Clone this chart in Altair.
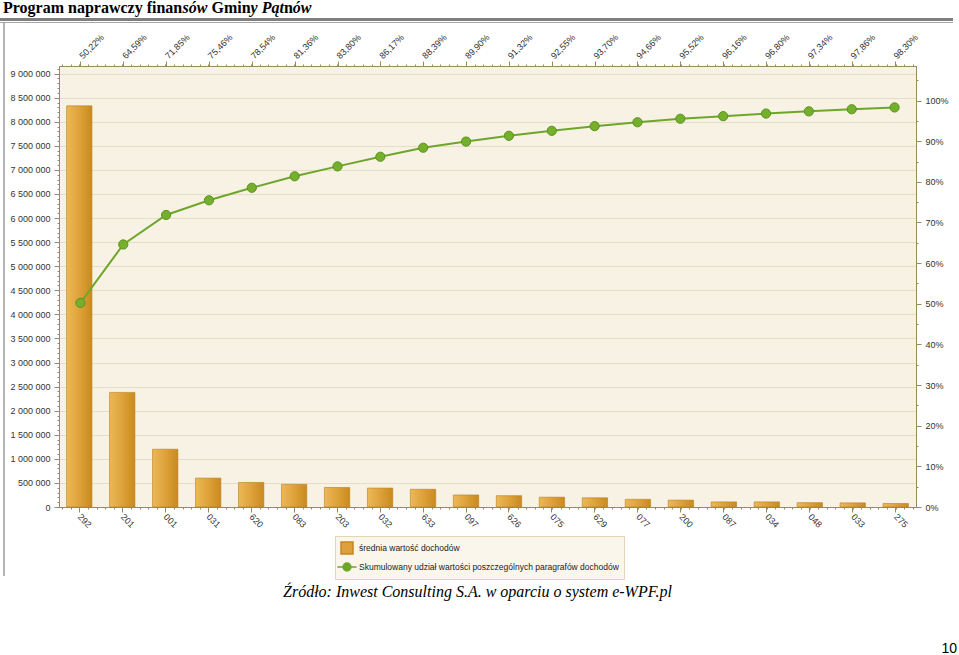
import altair as alt
import pandas as pd

codes = ["292", "201", "001", "031", "620", "083", "203", "032", "633", "097",
         "626", "075", "629", "077", "200", "087", "034", "048", "033", "275"]
values = [8330000, 2380000, 1200000, 600000, 510000, 470000, 405000, 393000, 368000, 250000,
          235000, 204000, 191000, 159000, 143000, 106000, 106000, 90000, 86000, 73000]
cum_pct = [50.22, 64.59, 71.85, 75.46, 78.54, 81.36, 83.80, 86.17, 88.39, 89.90,
           91.32, 92.55, 93.70, 94.66, 95.52, 96.16, 96.80, 97.34, 97.86, 98.30]
cum_labels = [("%.2f%%" % p).replace(".", ",") for p in cum_pct]

bar_name = "średnia wartość dochodów"
line_name = "Skumulowany udział wartości poszczególnych paragrafów dochodów"
# page title pieces: (text, italic)
title_parts = [("Program naprawczy finan", False), ("sów", True), (" Gmin", False),
               ("y Pąt", True), ("n", False), ("ów", True)]
source = "Źródło: Inwest Consulting S.A. w oparciu o system e-WPF.pl"
page_no = "10"

df = pd.DataFrame({"code": codes, "value": values, "cum": [p / 100 for p in cum_pct]})
legend_df = pd.DataFrame({"series": [bar_name, line_name]})

FONT = "Liberation Sans"
OLIVE = "#978b60"
W, H = 857, 441
PL, PT = 59, 66
YMAX = 9158000
PMAX = 1.085

xscale = alt.Scale(paddingInner=0.41, paddingOuter=0.177)
label_expr_top = "[" + ",".join("'%s'" % s for s in cum_labels) + "][indexof([" + \
    ",".join("'%s'" % c for c in codes) + "], datum.value)]"

bar_grad = {"gradient": "linear", "x1": 0, "x2": 1, "y1": 0, "y2": 0,
            "stops": [{"offset": 0, "color": "#ecb857"},
                      {"offset": 0.5, "color": "#dea23a"},
                      {"offset": 1, "color": "#c98a1f"}]}

bars = alt.Chart(df).mark_bar(color=bar_grad, stroke="#b97e1d", strokeWidth=0.6).encode(
    x=alt.X("code:N", sort=codes, scale=xscale, title=None,
            axis=alt.Axis(orient="bottom", labelAngle=45, labelAlign="left", labelBaseline="middle",
                          labelPadding=3, labelFont=FONT, labelFontSize=9, labelColor="#333333",
                          tickColor=OLIVE, tickSize=5, domainColor=OLIVE, grid=False)),
    y=alt.Y("value:Q", scale=alt.Scale(domain=[0, YMAX], nice=False, zero=True), title=None,
            axis=alt.Axis(orient="left", values=list(range(0, 9000001, 500000)),
                          labelExpr="replace(format(datum.value, ','), regexp(',', 'g'), ' ')",
                          labelFont=FONT, labelFontSize=9, labelColor="#333333", labelPadding=4,
                          tickColor=OLIVE, tickSize=5, domainColor=OLIVE,
                          grid=True, gridColor="#e7dcc5", gridWidth=1)),
)

yp = alt.Scale(domain=[0, PMAX], nice=False, zero=True)

line = alt.Chart(df).mark_line(color="#6ea62a", strokeWidth=2).encode(
    x=alt.X("code:N", sort=codes, scale=xscale, title=None,
            axis=alt.Axis(orient="top", labelExpr=label_expr_top, labelAngle=-45, labelAlign="left",
                          labelBaseline="middle", labelPadding=4, labelFont=FONT, labelFontSize=9,
                          labelColor="#333333", tickColor=OLIVE, tickSize=5, domainColor=OLIVE,
                          grid=False)),
    y=alt.Y("cum:Q", scale=yp, title=None,
            axis=alt.Axis(orient="right", values=[i / 10 for i in range(11)], format=".0%",
                          labelFont=FONT, labelFontSize=9, labelColor="#333333", labelPadding=4,
                          tickColor=OLIVE, tickSize=5, domainColor=OLIVE, grid=False)),
)

pts = alt.Chart(df).mark_circle(size=85, color="#74b02c", stroke="#5b921e", strokeWidth=1,
                                opacity=1).encode(
    x=alt.X("code:N", sort=codes, scale=xscale, axis=None),
    y=alt.Y("cum:Q", scale=yp, axis=None),
)

# minor ticks (axes only, invisible carrier marks)
minor_x = [round(0.1 + 0.2 * k, 2) for k in range(100)]
minor_xscale = alt.Scale(domain=[0.023, 19.976], nice=False, zero=False)
minor_df = pd.DataFrame({"mx": [1.0], "my": [0.0], "mp": [0.0]})

minor_a = alt.Chart(minor_df).mark_point(opacity=0).encode(
    x=alt.X("mx:Q", scale=minor_xscale, axis=alt.Axis(orient="bottom", labels=False, domain=False,
                                                      grid=False, tickSize=2, tickColor=OLIVE,
                                                      title=None, values=minor_x)),
    y=alt.Y("my:Q", scale=alt.Scale(domain=[0, YMAX], nice=False, zero=True),
            axis=alt.Axis(orient="left", labels=False, domain=False, grid=False, tickSize=2,
                          tickColor=OLIVE, title=None, values=list(range(0, 9100001, 100000)))),
)
minor_b = alt.Chart(minor_df).mark_point(opacity=0).encode(
    x=alt.X("mx:Q", scale=minor_xscale, axis=alt.Axis(orient="top", labels=False, domain=False,
                                                      grid=False, tickSize=2, tickColor=OLIVE,
                                                      title=None, values=minor_x)),
    y=alt.Y("mp:Q", scale=yp,
            axis=alt.Axis(orient="right", labels=False, domain=False, grid=False, tickSize=2,
                          tickColor=OLIVE, title=None,
                          values=[round(0.05 * k, 2) for k in range(22)])),
)

legend_path = "M-1.6,0L1.6,0M-0.65,0A0.65,0.65,0,1,1,0.65,0A0.65,0.65,0,1,1,-0.65,0Z"
lg = alt.Legend(orient="none", legendX=276, legendY=470, title=None,
                fillColor="#fbf6ec", strokeColor="#e2d6b6", padding=5,
                labelFont=FONT, labelFontSize=8.5, labelColor="#222222", labelLimit=500,
                symbolSize=144, labelOffset=5, rowPadding=3,
                symbolStrokeWidth=1.5, symbolOpacity=1)
leg = alt.Chart(legend_df).mark_point(filled=True, strokeWidth=1.5).encode(
    x=alt.value(-700), y=alt.value(-700),
    color=alt.Color("series:N",
                    scale=alt.Scale(domain=[bar_name, line_name], range=["#dea03c", "#6ea62a"]),
                    legend=lg),
    stroke=alt.Stroke("series:N",
                      scale=alt.Scale(domain=[bar_name, line_name], range=["#c4871f", "#6ea62a"]),
                      legend=lg),
    shape=alt.Shape("series:N",
                    scale=alt.Scale(domain=[bar_name, line_name], range=["square", legend_path]),
                    legend=lg),
)

# approximate advance widths (em) of Liberation Serif Bold / Bold Italic for the title pieces
W_BOLD = {"P": .611, "r": .444, "o": .5, "g": .5, "a": .5, "m": .833, " ": .25, "n": .556,
          "p": .556, "w": .722, "c": .444, "z": .444, "y": .5, "f": .333, "i": .278, "s": .389,
          "G": .778}
W_BI = {"s": .389, "ó": .5, "w": .667, "y": .444, " ": .25, "P": .611, "ą": .5, "t": .278}
TSIZE = 16
title_layers = []
cx = 3.0
for txt, ital in title_parts:
    table = W_BI if ital else W_BOLD
    lead = len(txt) - len(txt.lstrip(" "))
    cx += lead * table[" "] * TSIZE
    body = txt.lstrip(" ")
    title_layers.append(
        alt.Chart(alt.Data(values=[{"t": body}])).mark_text(
            font="Liberation Serif", fontSize=TSIZE, fontWeight="bold",
            fontStyle="italic" if ital else "normal", align="left", baseline="alphabetic",
            color="#000000").encode(text="t:N", x=alt.value(cx - PL), y=alt.value(13 - PT)))
    cx += sum(table.get(ch, .5) for ch in body) * TSIZE

rule1 = alt.Chart(alt.Data(values=[{}])).mark_rule(color="#7f7f7f", strokeWidth=3).encode(
    x=alt.value(0 - PL), x2=alt.value(953 - PL), y=alt.value(19.5 - PT))
rule2 = alt.Chart(alt.Data(values=[{}])).mark_rule(color="#a6a6a6", strokeWidth=1).encode(
    x=alt.value(0 - PL), x2=alt.value(953 - PL), y=alt.value(22.5 - PT))
frame = alt.Chart(alt.Data(values=[{}])).mark_rule(color="#b4b4b4", strokeWidth=2).encode(
    x=alt.value(4 - PL), y=alt.value(23 - PT), y2=alt.value(576 - PT))

src_t = alt.Chart(alt.Data(values=[{"t": source}])).mark_text(
    font="Liberation Serif", fontSize=16, fontStyle="italic", align="left",
    baseline="alphabetic", color="#000000").encode(
    text="t:N", x=alt.value(283 - PL), y=alt.value(597 - PT))

num_t = alt.Chart(alt.Data(values=[{"t": page_no}])).mark_text(
    font="Liberation Sans", fontSize=14, align="right", baseline="alphabetic",
    color="#000000").encode(text="t:N", x=alt.value(957 - PL), y=alt.value(653 - PT))

chart = alt.layer(bars, line, pts, minor_a, minor_b, leg, *title_layers, rule1, rule2, frame,
                  src_t, num_t).resolve_scale(
    x="independent", y="independent"
).resolve_axis(x="independent", y="independent").properties(
    width=W, height=H,
    autosize=alt.AutoSizeParams(type="none"),
    padding={"left": PL, "top": PT, "right": 959 - PL - W, "bottom": 655 - PT - H},
    background="#ffffff",
).configure_view(
    fill="#f8f2e5", stroke=OLIVE, strokeWidth=1,
)

chart.save("out.html", embed_options={"renderer": "svg", "actions": False})
